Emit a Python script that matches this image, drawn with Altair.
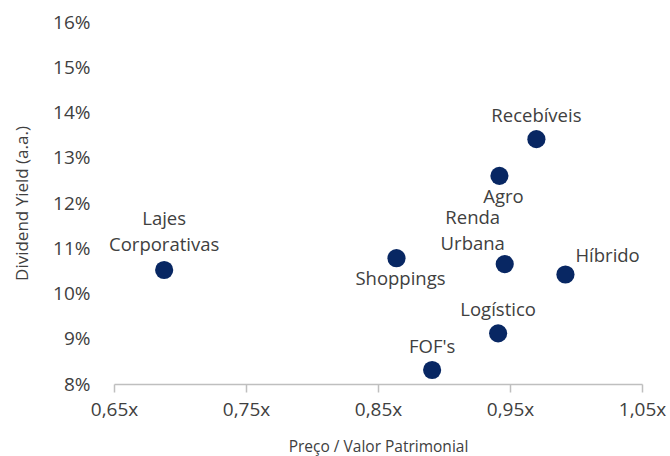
import altair as alt
import pandas as pd

# Fund segments: price-to-book multiple vs. annual dividend yield (%)
segments = ["Lajes\nCorporativas", "Shoppings", "FOF's", "Logístico",
            "Renda\nUrbana", "Agro", "Recebíveis", "Híbrido"]
pvp = [0.688, 0.864, 0.891, 0.941, 0.946, 0.942, 0.970, 0.992]
dy_pct = [10.52, 10.78, 8.31, 9.12, 10.65, 12.60, 13.41, 10.42]
placement = ["above2", "below", "above", "above", "aboveleft", "below", "above", "right"]

df = pd.DataFrame({"segment": segments, "pvp": pvp, "dy": dy_pct, "pos": placement})

FONT = "Open Sans"
NAVY = "#082763"
TEXT = "#404040"

x_enc = alt.X("pvp:Q",
              scale=alt.Scale(domain=[0.65, 1.05], nice=False, zero=False),
              axis=alt.Axis(values=[0.65, 0.75, 0.85, 0.95, 1.05],
                            labelExpr="replace(format(datum.value, '.2f'), '.', ',') + 'x'",
                            title="Preço / Valor Patrimonial",
                            grid=False, domainColor="#bfbfbf", domainWidth=1.5,
                            tickColor="#bfbfbf", tickWidth=1.5, tickSize=8,
                            labelFlush=False,
                            labelFontSize=19, labelColor=TEXT, labelFont=FONT,
                            labelPadding=8, titleFontSize=15.5, titleFont=FONT,
                            titleColor=TEXT, titleFontWeight="normal", titlePadding=20))
y_enc = alt.Y("dy:Q",
              scale=alt.Scale(domain=[8, 16], nice=False, zero=False),
              axis=alt.Axis(values=list(range(8, 17)),
                            labelExpr="datum.value + '%'",
                            title="Dividend Yield (a.a.)",
                            grid=False, domain=False, ticks=False,
                            labelFontSize=19, labelColor=TEXT, labelFont=FONT,
                            labelPadding=24, titleFontSize=17, titleFont=FONT,
                            titleColor=TEXT, titleFontWeight="normal", titlePadding=21))

base = alt.Chart(df).encode(x=x_enc, y=y_enc)

points = base.mark_circle(size=330, color=NAVY, opacity=1)


def labels(pos, **kw):
    # multi-line labels start at the anchor and continue downward
    return base.transform_filter(alt.datum.pos == pos).mark_text(
        font=FONT, fontSize=18.5, color=TEXT, lineBreak="\n", lineHeight=26,
        baseline="middle", **kw).encode(text="segment:N")


chart = alt.layer(
    points,
    labels("above", dy=-23, align="center"),
    labels("above2", dy=-51, align="center"),
    labels("below", dy=21, dx=4, align="center"),
    labels("aboveleft", dy=-46, dx=-32, align="center"),
    labels("right", dy=-18, dx=10, align="left"),
).properties(
    width=528, height=362,
    autosize=alt.AutoSizeParams(type="none"),
    padding={"left": 114, "top": 22, "right": 28, "bottom": 72},
).configure(background="white").configure_view(stroke=None)

chart.save("out.html", embed_options={"renderer": "svg", "actions": False})
